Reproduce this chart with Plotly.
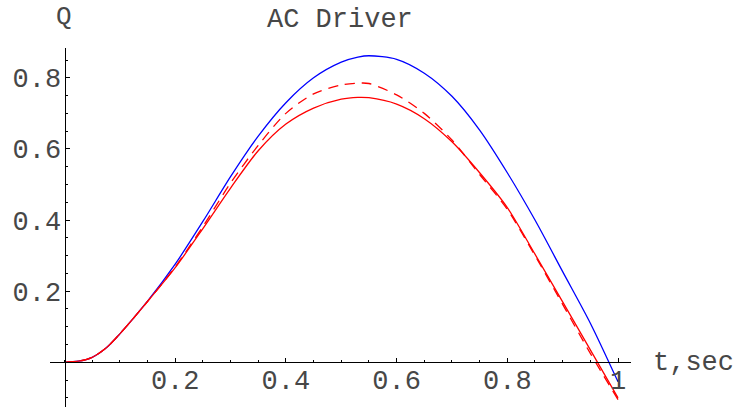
import plotly.graph_objects as go

# ---- data ----
t = [0, 0.025, 0.05, 0.075, 0.1, 0.15, 0.2, 0.25, 0.3, 0.35, 0.4, 0.45, 0.5,
     0.53, 0.55, 0.6, 0.65, 0.7, 0.75, 0.8, 0.85, 0.9, 0.95, 1.0]
q_blue = [0, 0.003, 0.014, 0.040, 0.080, 0.172, 0.276, 0.396, 0.522, 0.636,
          0.730, 0.800, 0.844, 0.858, 0.862, 0.852, 0.813, 0.748, 0.653,
          0.533, 0.400, 0.255, 0.110, -0.055]
q_dash = [0, 0.003, 0.014, 0.040, 0.080, 0.171, 0.268, 0.382, 0.504, 0.610,
          0.700, 0.755, 0.780, 0.785, 0.784, 0.752, 0.700, 0.625, 0.528,
          0.430, 0.300, 0.163, 0.025, -0.105]
q_red = [0, 0.003, 0.014, 0.040, 0.080, 0.171, 0.266, 0.376, 0.490, 0.595,
         0.670, 0.715, 0.740, 0.745, 0.744, 0.726, 0.685, 0.620, 0.533,
         0.435, 0.304, 0.170, 0.035, -0.100]

x_ticks = [0.2, 0.4, 0.6, 0.8, 1.0]
x_tick_text = ["0.2", "0.4", "0.6", "0.8", "1"]
y_ticks = [0.2, 0.4, 0.6, 0.8]
y_tick_text = ["0.2", "0.4", "0.6", "0.8"]

title_text = "AC Driver"
y_label = "Q"
x_label = "t,sec"

# ---- layout geometry (pixels) ----
W, H = 746, 409
FONT = "Liberation Mono"
TXT = "#474747"

fig = go.Figure()
fig.add_trace(go.Scatter(x=t, y=q_blue, mode="lines",
                         line=dict(color="#0000FF", width=1.3, shape="spline",
                                   smoothing=0.8),
                         showlegend=False))
fig.add_trace(go.Scatter(x=t, y=q_dash, mode="lines",
                         line=dict(color="#FF0000", width=1.3, shape="spline",
                                   smoothing=0.8, dash="10px,7px"),
                         showlegend=False))
fig.add_trace(go.Scatter(x=t, y=q_red, mode="lines",
                         line=dict(color="#FF0000", width=1.3, shape="spline",
                                   smoothing=0.8),
                         showlegend=False))

def px_x(p):
    return p / W

def px_y(p):
    return (H - p) / H

fig.update_layout(
    width=W, height=H,
    margin=dict(l=0, r=0, t=0, b=0),
    template="none",
    paper_bgcolor="white", plot_bgcolor="white",
    font=dict(family=FONT, color=TXT),
    xaxis=dict(
        domain=[px_x(50), px_x(631.3)],
        range=[-0.0262, 1.024],
        anchor="free", position=px_y(362.3),
        showline=True, linecolor="black", linewidth=1,
        showgrid=False, zeroline=False,
        tickmode="array", tickvals=x_ticks, ticktext=x_tick_text,
        ticks="inside", ticklen=4, tickwidth=1, tickcolor="black",
        tickfont=dict(family=FONT, size=27, color=TXT),
        ticklabelstandoff=-7,
        minor=dict(dtick=0.05, tick0=0, ticks="inside", ticklen=2.5,
                   tickwidth=1, tickcolor="black", showgrid=False),
        automargin=False,
        fixedrange=True,
    ),
    yaxis=dict(
        domain=[px_y(406.7), px_y(48.3)],
        range=[-0.1249, 0.883],
        anchor="free", position=px_x(64.5),
        showline=True, linecolor="black", linewidth=1,
        showgrid=False, zeroline=False,
        tickmode="array", tickvals=y_ticks, ticktext=y_tick_text,
        ticks="inside", ticklen=4, tickwidth=1, tickcolor="black",
        tickfont=dict(family=FONT, size=27, color=TXT),
        ticklabelstandoff=-2,
        minor=dict(dtick=0.05, tick0=0, ticks="inside", ticklen=2.5,
                   tickwidth=1, tickcolor="black", showgrid=False),
        automargin=False,
        fixedrange=True,
    ),
    annotations=[
        dict(text=title_text, xref="paper", yref="paper",
             x=px_x(340), y=px_y(20), xanchor="center", yanchor="middle",
             showarrow=False, font=dict(family=FONT, size=27, color=TXT)),
        dict(text=y_label, xref="paper", yref="paper",
             x=px_x(64), y=px_y(17), xanchor="center", yanchor="middle",
             showarrow=False, font=dict(family=FONT, size=26, color=TXT)),
        dict(text=x_label, xref="paper", yref="paper",
             x=px_x(651), y=px_y(363), xanchor="left", yanchor="middle",
             showarrow=False, font=dict(family=FONT, size=27, color=TXT)),
    ],
)

fig.write_html("out.html", config={"displayModeBar": False},
               post_script="document.body.style.margin='0';")
